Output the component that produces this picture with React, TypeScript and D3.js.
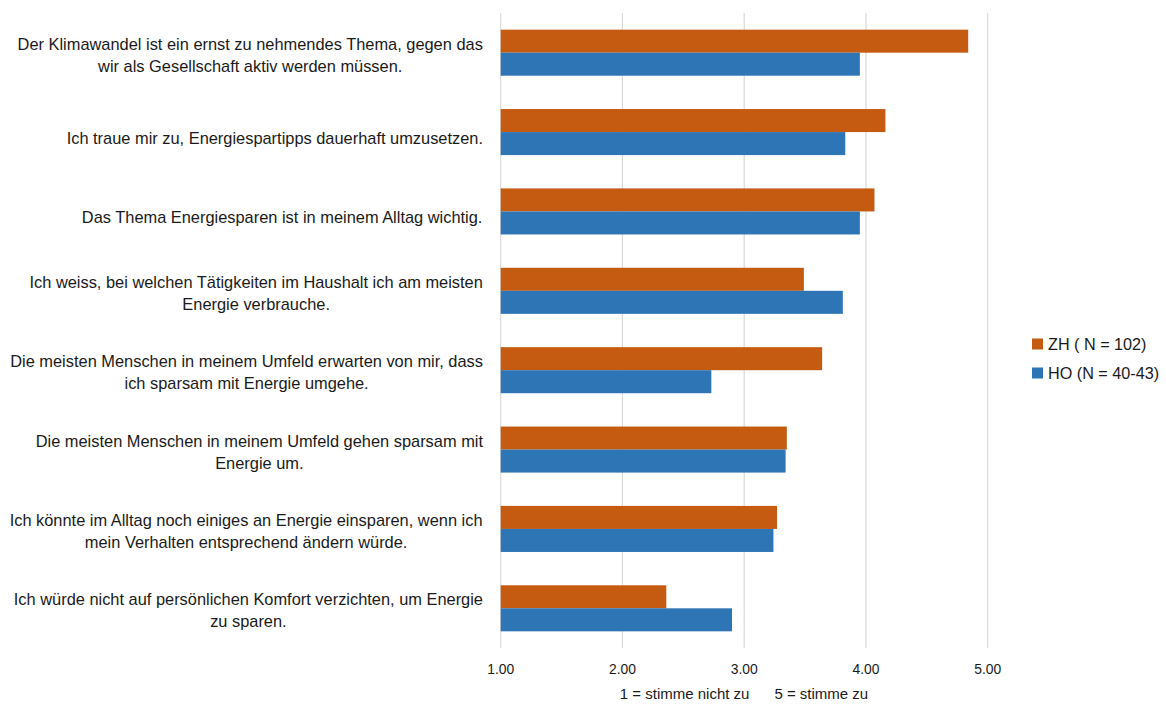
import React from "react";
import * as d3 from "d3";

const categories: string[][] = [
  ["Der Klimawandel ist ein ernst zu nehmendes Thema, gegen das", "wir als Gesellschaft aktiv werden müssen."],
  ["Ich traue mir zu, Energiespartipps dauerhaft umzusetzen."],
  ["Das Thema Energiesparen ist in meinem Alltag wichtig."],
  ["Ich weiss, bei welchen Tätigkeiten im Haushalt ich am meisten", "Energie verbrauche."],
  ["Die meisten Menschen in meinem Umfeld erwarten von mir, dass", "ich sparsam mit Energie umgehe."],
  ["Die meisten Menschen in meinem Umfeld gehen sparsam mit", "Energie um."],
  ["Ich könnte im Alltag noch einiges an Energie einsparen, wenn ich", "mein Verhalten entsprechend ändern würde."],
  ["Ich würde nicht auf persönlichen Komfort verzichten, um Energie", "zu sparen."],
];
const zhValues = [4.84, 4.16, 4.07, 3.49, 3.64, 3.35, 3.27, 2.36];
const hoValues = [3.95, 3.83, 3.95, 3.81, 2.73, 3.34, 3.24, 2.9];
const seriesNames = ["ZH ( N = 102)", "HO (N = 40-43)"];
const tickValues = [1, 2, 3, 4, 5];
const axisNote = "1 = stimme nicht zu      5 = stimme zu";

const COLORS = ["#C55A11", "#2E75B6"];
const FONT = "'Liberation Sans', Arial, sans-serif";
const LABEL_SIZE = 16.4;

function measure(text: string, size: number): number {
  const canvas = document.createElement("canvas");
  const ctx = canvas.getContext("2d");
  if (!ctx) return text.length * size * 0.5;
  ctx.font = `${size}px 'Liberation Sans', Arial, sans-serif`;
  return ctx.measureText(text).width;
}

export default function App() {
  const width = 1166;
  const height = 704;
  const x = d3.scaleLinear().domain([1, 5]).range([500.7, 987.7]);
  const idx = categories.map((_, i) => i);
  const y = d3.scaleBand<number>().domain(idx).range([13, 648]).paddingInner(0.42).paddingOuter(0.21);
  const sub = d3.scaleBand<number>().domain([0, 1]).range([0, y.bandwidth()]);
  const series = [zhValues, hoValues];

  return (
    <svg width={width} height={height} style={{ position: "absolute", left: 0, top: 0 }} fontFamily={FONT}>
      <rect width={width} height={height} fill="#fff" />
      {tickValues.map((t) => (
        <line key={t} x1={x(t)} x2={x(t)} y1={13} y2={648} stroke="#d9d9d9" strokeWidth={1.2} />
      ))}
      {idx.map((i) => {
        const lines = categories[i];
        const maxW = Math.max(...lines.map((l) => measure(l, LABEL_SIZE)));
        const cx = 483 - maxW / 2;
        const c = (y(i) as number) + y.bandwidth() / 2;
        const mid = lines.length === 1 ? c + 6 : c + 2;
        return (
          <g key={i}>
            {series.map((vals, s) => (
              <rect
                key={s}
                x={x(1)}
                y={(y(i) as number) + (sub(s) as number)}
                width={x(vals[i]) - x(1)}
                height={sub.bandwidth()}
                fill={COLORS[s]}
              />
            ))}
            {lines.map((line, k) => {
              const yy = mid + (k - (lines.length - 1) / 2) * 22 + 6;
              return (
                <text key={k} x={cx} y={yy} textAnchor="middle" fontSize={LABEL_SIZE} fill="#1a1a1a">
                  {line}
                </text>
              );
            })}
          </g>
        );
      })}
      {tickValues.map((t) => (
        <text
          key={t}
          x={x(t) - 13.5}
          y={674}
          fontSize={15}
          fill="#1a1a1a"
          textLength={27}
          lengthAdjust="spacingAndGlyphs"
        >
          {d3.format(".2f")(t)}
        </text>
      ))}
      <text x={744} y={699} textAnchor="middle" fontSize={15} fill="#1a1a1a" style={{ whiteSpace: "pre" }}>
        {axisNote}
      </text>
      {seriesNames.map((name, s) => (
        <g key={name} transform={`translate(1032, ${338.5 + s * 29})`}>
          <rect x={0} y={0} width={11} height={11} fill={COLORS[s]} />
          <text x={16} y={11.5} fontSize={16.2} fill="#1a1a1a">
            {name}
          </text>
        </g>
      ))}
    </svg>
  );
}
